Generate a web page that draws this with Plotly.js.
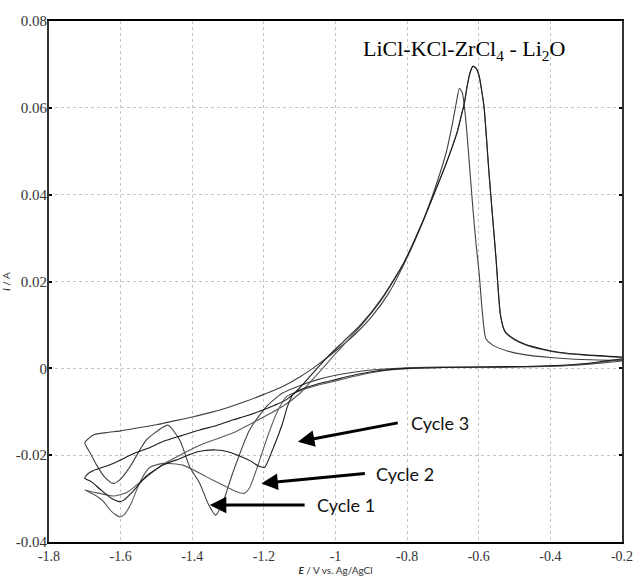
<!DOCTYPE html>
<html>
<head>
<meta charset="utf-8">
<script src="https://cdn.plot.ly/plotly-3.0.1.min.js"></script>
<style>html,body{margin:0;padding:0;background:#fff;}#chart{width:633px;height:576px;}</style>
</head>
<body>
<div id="chart"></div>
<script>
// ---- data (potential E / V, current i / A) ----
const cycle1E = [-0.20,-0.30,-0.40,-0.50,-0.60,-0.70,-0.80,-0.85,-0.90,-0.95,-1.00,-1.05,-1.10,-1.148,-1.193,-1.240,-1.287,-1.315,-1.335,-1.356,-1.379,-1.407,-1.435,-1.467,-1.481,-1.528,-1.574,-1.600,-1.621,-1.645,-1.667,-1.685,-1.700,
  -1.690,-1.675,-1.640,-1.600,-1.550,-1.500,-1.450,-1.400,-1.350,-1.300,-1.250,-1.200,-1.150,-1.100,-1.050,-1.000,-0.950,-0.900,-0.850,-0.800,-0.760,-0.720,-0.690,-0.672,-0.662,-0.654,-0.646,-0.636,-0.627,-0.617,-0.608,-0.599,-0.590,-0.580,-0.562,-0.520,-0.469,-0.400,-0.330,-0.200];
const cycle1I = [0.0017,0.0009,0.0005,0.0004,0.0003,0.0003,0.0001,-0.0001,-0.0004,-0.0009,-0.0016,-0.0026,-0.0040,-0.0057,-0.0088,-0.0142,-0.0241,-0.0310,-0.0338,-0.0311,-0.0265,-0.0227,-0.0165,-0.0131,-0.0135,-0.0165,-0.0227,-0.0255,-0.0265,-0.0250,-0.0223,-0.0195,-0.0172,
  -0.0162,-0.0153,-0.0148,-0.0144,-0.0137,-0.0130,-0.0121,-0.0112,-0.0102,-0.0090,-0.0076,-0.0060,-0.0043,-0.0020,0.0008,0.0040,0.0075,0.0118,0.0175,0.0255,0.0330,0.0420,0.0500,0.0570,0.0615,0.0645,0.0635,0.0570,0.0480,0.0375,0.0290,0.0220,0.0130,0.0068,0.0054,0.0040,0.0031,0.0025,0.0021,0.0018];

const cycle2E = [-0.20,-0.30,-0.40,-0.50,-0.60,-0.70,-0.80,-0.85,-0.90,-0.95,-1.00,-1.05,-1.10,-1.137,-1.165,-1.193,-1.221,-1.240,-1.255,-1.280,-1.305,-1.360,-1.426,-1.481,-1.518,-1.545,-1.570,-1.590,-1.602,-1.625,-1.650,-1.676,-1.700,
  -1.680,-1.658,-1.621,-1.583,-1.550,-1.520,-1.480,-1.430,-1.379,-1.330,-1.287,-1.221,-1.148,-1.100,-1.060,-1.020,-0.980,-0.930,-0.870,-0.810,-0.757,-0.720,-0.691,-0.660,-0.648,-0.640,-0.632,-0.624,-0.616,-0.607,-0.599,-0.592,-0.585,-0.571,-0.552,-0.539,-0.526,-0.500,-0.469,-0.420,-0.376,-0.300,-0.200];
const cycle2I = [0.0020,0.0010,0.0005,0.0003,0.0002,0.0002,-0.0001,-0.0004,-0.0010,-0.0019,-0.0029,-0.0039,-0.0052,-0.0065,-0.0104,-0.0165,-0.0234,-0.0275,-0.0288,-0.0283,-0.0273,-0.0250,-0.0223,-0.0219,-0.0228,-0.0260,-0.0310,-0.0337,-0.0342,-0.0330,-0.0305,-0.0290,-0.0280,
  -0.0285,-0.0288,-0.0294,-0.0286,-0.0265,-0.0245,-0.0220,-0.0198,-0.0177,-0.0162,-0.0149,-0.0121,-0.0088,-0.0058,-0.0022,0.0015,0.0052,0.0097,0.0160,0.0241,0.0336,0.0411,0.0471,0.0544,0.0584,0.0611,0.0651,0.0681,0.0695,0.0690,0.0673,0.0640,0.0600,0.0445,0.0255,0.0120,0.0083,0.0066,0.0054,0.0043,0.0036,0.0030,0.0025];

const cycle3E = [-0.20,-0.30,-0.40,-0.50,-0.60,-0.70,-0.80,-0.85,-0.90,-0.95,-1.00,-1.05,-1.10,-1.120,-1.135,-1.148,-1.176,-1.198,-1.215,-1.240,-1.268,-1.300,-1.333,-1.370,-1.400,-1.435,-1.480,-1.528,-1.565,-1.590,-1.602,-1.625,-1.658,-1.680,-1.700,
  -1.690,-1.677,-1.650,-1.621,-1.565,-1.520,-1.480,-1.430,-1.379,-1.330,-1.287,-1.250,-1.212,-1.170,-1.137,-1.100,-1.060,-1.020,-0.980,-0.930,-0.870,-0.810,-0.757,-0.720,-0.691,-0.660,-0.648,-0.640,-0.632,-0.624,-0.616,-0.607,-0.599,-0.592,-0.585,-0.571,-0.552,-0.539,-0.526,-0.500,-0.469,-0.420,-0.376,-0.300,-0.200];
const cycle3I = [0.0022,0.0011,0.0006,0.0004,0.0003,0.0002,0.0000,-0.0003,-0.0008,-0.0016,-0.0026,-0.0036,-0.0050,-0.0062,-0.0090,-0.0127,-0.0188,-0.0228,-0.0225,-0.0212,-0.0202,-0.0192,-0.0188,-0.0190,-0.0196,-0.0208,-0.0222,-0.0248,-0.0283,-0.0303,-0.0307,-0.0300,-0.0278,-0.0262,-0.0253,
  -0.0242,-0.0236,-0.0228,-0.0219,-0.0197,-0.0183,-0.0168,-0.0155,-0.0142,-0.0131,-0.0119,-0.0110,-0.0099,-0.0085,-0.0072,-0.0045,-0.0008,0.0028,0.0060,0.0100,0.0162,0.0242,0.0337,0.0412,0.0472,0.0545,0.0585,0.0612,0.0652,0.0682,0.0696,0.0691,0.0674,0.0641,0.0601,0.0446,0.0256,0.0121,0.0084,0.0067,0.0055,0.0044,0.0037,0.0031,0.0026];

const xTickVals = [-1.8,-1.6,-1.4,-1.2,-1.0,-0.8,-0.6,-0.4,-0.2];
const xTickText = ['-1.8','-1.6','-1.4','-1.2','-1','-0.8','-0.6','-0.4','-0.2'];
const yTickVals = [-0.04,-0.02,0,0.02,0.04,0.06,0.08];
const yTickText = ['-0.04','-0.02','0','0.02','0.04','0.06','0.08'];
const cycleLabels = ['Cycle 1','Cycle 2','Cycle 3'];

// ---- traces ----
function tr(x, y, color, name) {
  return {x: x, y: y, mode: 'lines', name: name, type: 'scatter',
    line: {color: color, width: 1.1, shape: 'spline', smoothing: 0.6}, hoverinfo: 'skip'};
}
const data = [
  tr(cycle1E, cycle1I, '#404040', cycleLabels[0]),
  tr(cycle2E, cycle2I, '#5a5a5a', cycleLabels[1]),
  tr(cycle3E, cycle3I, '#1c1c1c', cycleLabels[2])
];

const serif = 'Liberation Serif';
const sans = 'Lato';

function arrow(hx, hy, tx, ty) {
  return {x: hx, y: hy, ax: tx, ay: ty, xref: 'x', yref: 'y', axref: 'x', ayref: 'y',
    text: '', showarrow: true, arrowhead: 2, arrowsize: 1.1, arrowwidth: 3, arrowcolor: '#000', standoff: 0, startstandoff: 0};
}
function label(x, y, txt) {
  return {x: x, y: y, xref: 'x', yref: 'y', text: txt, showarrow: false, xanchor: 'left', yanchor: 'middle',
    font: {family: sans, size: 18, color: '#111'}};
}

const layout = {
  width: 633, height: 576,
  margin: {l: 49, r: 11, t: 21, b: 34, pad: 0},
  paper_bgcolor: '#fff', plot_bgcolor: '#fff',
  showlegend: false,
  xaxis: {
    range: [-1.8, -0.2], tickmode: 'array', tickvals: xTickVals, ticktext: xTickText,
    showgrid: true, gridcolor: '#c4c4c4', griddash: 'dot', gridwidth: 1,
    zeroline: false, showline: true, linecolor: '#000', linewidth: 2, mirror: true,
    ticks: '', ticklabeloverflow: 'allow', tickfont: {family: serif, size: 14, color: '#333'},
    title: {text: '<b><i>E</i></b> / V vs. Ag/AgCl', font: {family: sans, size: 10, color: '#333'}, standoff: 3}
  },
  yaxis: {
    range: [-0.04, 0.08], tickmode: 'array', tickvals: yTickVals, ticktext: yTickText,
    showgrid: true, gridcolor: '#c4c4c4', griddash: 'dot', gridwidth: 1,
    zeroline: false, showline: true, linecolor: '#333', linewidth: 2, mirror: 'ticks',
    ticks: 'inside', ticklen: 3, tickwidth: 2, tickcolor: '#000', ticklabelstandoff: -3,
    tickfont: {family: serif, size: 15, color: '#333'},
    title: {text: '<b><i>i</i></b> / A', font: {family: sans, size: 10, color: '#333'}, standoff: 4}
  },
  annotations: [
    {x: 0.545, y: 0.975, xref: 'paper', yref: 'paper', xanchor: 'left', yanchor: 'top', showarrow: false,
     text: 'LiCl-KCl-ZrCl<sub>4</sub> - Li<sub>2</sub>O', font: {family: serif, size: 22, color: '#000'}},
    arrow(-1.105, -0.0169, -0.822, -0.0125),
    arrow(-1.207, -0.0265, -0.914, -0.0242),
    arrow(-1.351, -0.0315, -1.082, -0.0315),
    label(-0.795, -0.0126, cycleLabels[2]),
    label(-0.892, -0.0243, cycleLabels[1]),
    label(-1.058, -0.0315, cycleLabels[0])
  ]
};

Plotly.newPlot('chart', data, layout, {displayModeBar: false, staticPlot: true});
</script>
</body>
</html>
